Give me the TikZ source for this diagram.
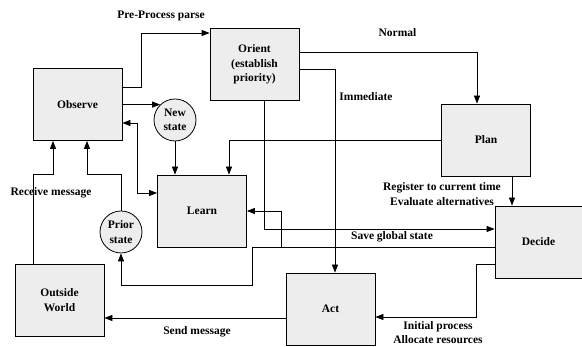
\documentclass[tikz,border=0pt]{standalone}
\usepackage{fontspec}
\setmainfont{Liberation Serif}
\usetikzlibrary{positioning, arrows.meta, calc}

\begin{document}
\begin{tikzpicture}[
        x=1pt, y=1pt,
        font=\fontsize{11.5}{14.5}\selectfont\bfseries,
        bloc/.style={draw, fill=black!7, align=center, minimum width=89pt, minimum height=72pt, line width=0.8pt},
        stare/.style={draw, circle, fill=black!7, align=center, minimum size=42pt, inner sep=0pt, line width=0.8pt},
        eticheta/.style={align=center, inner sep=1pt},
        sageata/.style={-{Triangle[length=8pt, width=6pt]}, line width=0.8pt},
        dubla/.style={{Triangle[length=8pt, width=6pt]}-{Triangle[length=8pt, width=6pt]}, line width=0.8pt},
    ]
        \useasboundingbox (0,0) rectangle (582,347);
        % blocuri
        \node[bloc] (observe) at (77.5,242.5) {Observe};
        \node[bloc] (orient) at (254.5,282.5) {Orient\\(establish\\priority)};
        \node[bloc] (plan) at (486,207) {Plan};
        \node[bloc] (learn) at (202,136) {Learn};
        \node[bloc, minimum width=87pt] (decide) at (538.5,105) {Decide};
        \node[bloc] (outside) at (59.5,47) {Outside\\World};
        \node[bloc] (act) at (330.5,38) {Act};
        \node[stare] (newstate) at (175,227) {New\\state};
        \node[stare] (prior) at (121,115) {Prior\\state};
        % etichete
        \node[eticheta] (lblparse) at (161,331) {Pre-Process parse};
        \node[eticheta] (lblnormal) at (397.5,314) {Normal};
        \node[eticheta] (lblimmediate) at (366,250) {Immediate};
        \node[eticheta] (lblregister) at (442,153) {Register to current time\\Evaluate alternatives};
        \node[eticheta] (lblsave) at (392,110) {Save global state};
        \node[eticheta] (lblreceive) at (51,154) {Receive message};
        \node[eticheta] (lblsend) at (197,15) {Send message};
        \node[eticheta, font=\fontsize{11.5}{14}\selectfont\bfseries] (lblinitial) at (438,14.5) {Initial process\\Allocate resources};
        % conexiuni
        \draw[sageata] ([yshift=17.5pt]observe.east) -- ++(19,0) |- ([yshift=31.5pt]orient.west);
        \draw[sageata] (observe.east) -- (newstate.134);
        \draw[sageata] (newstate.south) -- (newstate.south |- learn.north);
        \draw[dubla] ([yshift=-18.5pt]observe.east) -- ++(15,0) |- ([yshift=18pt]learn.west);
        \draw[sageata] (plan.west) -| ([xshift=27pt]learn.north);
        \draw[sageata] ([yshift=12.5pt]orient.east) -| ([xshift=-9pt]plan.north);
        \draw[sageata] ([yshift=-4.5pt]orient.east) -| ([xshift=4.5pt]act.north);
        \draw[sageata] ([xshift=9.5pt]orient.south) |- ([yshift=13pt]decide.west);
        \draw[sageata] ([xshift=26pt]plan.south) -- ([xshift=26pt]plan.south |- decide.north);
        \coordinate (ramura) at ([yshift=-5pt]decide.west);
        \draw[sageata] (ramura) -- ++(-213,0) |- (learn.east);
        \draw[sageata] (ramura) -- ++(-242,0) -- ++(0,-38) -| (prior.south);
        \draw[sageata] (prior.north) -- ++(0,36) -| ([xshift=9.5pt]observe.south);
        \draw[sageata] ([xshift=-26.5pt]outside.north) -- ++(0,89) -| ([xshift=-24.5pt]observe.south);
        \draw[sageata] ([yshift=-22pt]decide.west) -- ++(-18,0) |- ([yshift=-8pt]act.east);
        \draw[sageata] ([yshift=-9pt]act.west) -- ([yshift=-9pt]act.west -| outside.east);
    \end{tikzpicture}
\end{document}
